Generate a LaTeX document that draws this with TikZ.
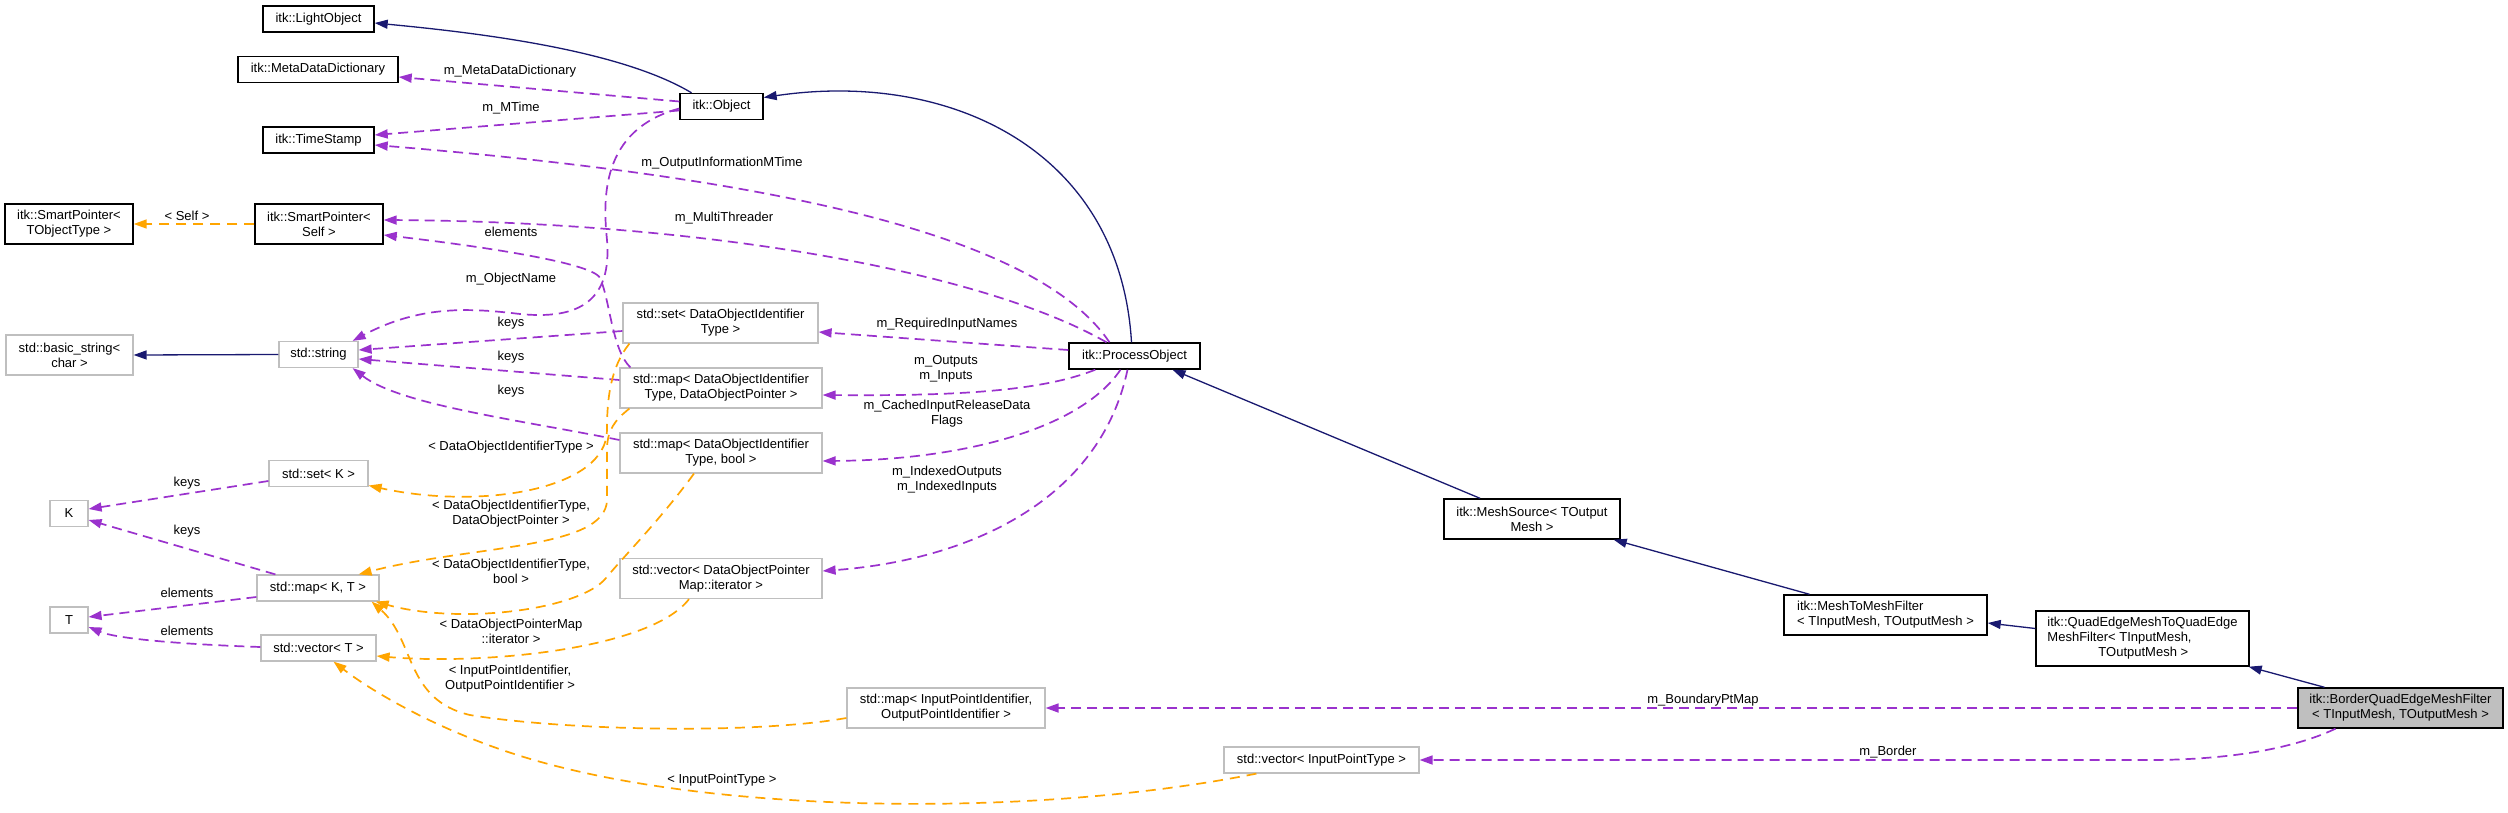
\documentclass[tikz,border=0pt]{standalone}
\usepackage{fontspec}
\setmainfont{Liberation Sans}
\usetikzlibrary{arrows.meta}
\definecolor{navy}{HTML}{191970}
\definecolor{purp}{HTML}{9A32CD}
\definecolor{orng}{HTML}{FFA500}
\definecolor{gry}{HTML}{BFBFBF}
\begin{document}
\begin{tikzpicture}[x=1pt,y=-1pt,
  every node/.style={font=\fontsize{13}{15}\selectfont, inner sep=0pt, align=center},
  cls/.style={draw=black, line width=1.4pt, fill=white},
  ext/.style={draw=gry, line width=1.2pt, fill=white},
  inh/.style={draw=navy, line width=1.3pt, -{Triangle[length=13pt,width=9pt]}},
  use/.style={draw=purp, line width=1.7pt, dash pattern=on 10pt off 6pt, -{Triangle[length=13pt,width=9pt]}},
  tpl/.style={draw=orng, line width=1.7pt, dash pattern=on 10pt off 7pt, -{Triangle[length=13pt,width=9pt]}},
  lbl/.style={text=black}
]
\fill[white] (0,0) rectangle (2508,813);
\useasboundingbox (0,0) rectangle (2508,813);

% nodes
\node[cls, minimum width=111pt, minimum height=26pt] (lightobj) at (318.5,19) {itk::LightObject};
\node[cls, minimum width=160pt, minimum height=26pt] (mdd) at (318,69.5) {itk::MetaDataDictionary};
\node[cls, minimum width=111pt, minimum height=26pt] (timestamp) at (318.5,140) {itk::TimeStamp};
\node[cls, minimum width=128pt, minimum height=40pt] (spself) at (319,224) {itk::SmartPointer<\\Self >};
\node[cls, minimum width=128pt, minimum height=40pt] (sptobj) at (69,224) {itk::SmartPointer<\\TObjectType >};
\node[cls, minimum width=83pt, minimum height=26pt] (object) at (721.5,106.5) {itk::Object};
\node[ext, minimum width=127pt, minimum height=40pt] (bstring) at (69.5,355) {std::basic\_string<\\char >};
\node[ext, minimum width=79pt, minimum height=26pt] (string) at (318.5,354.5) {std::string};
\node[ext, minimum width=195pt, minimum height=40pt] (setdoi) at (720.5,323) {std::set< DataObjectIdentifier\\Type >};
\node[ext, minimum width=202pt, minimum height=40pt] (mapdop) at (721,388) {std::map< DataObjectIdentifier\\Type, DataObjectPointer >};
\node[ext, minimum width=202pt, minimum height=40pt] (mapbool) at (721,453) {std::map< DataObjectIdentifier\\Type, bool >};
\node[ext, minimum width=99pt, minimum height=26pt] (setk) at (318.5,473.5) {std::set< K >};
\node[ext, minimum width=38pt, minimum height=26pt] (K) at (69,513.5) {K};
\node[ext, minimum width=122pt, minimum height=26pt] (mapkt) at (318,588) {std::map< K, T >};
\node[ext, minimum width=202pt, minimum height=40pt] (vecdop) at (721,578.5) {std::vector< DataObjectPointer\\Map::iterator >};
\node[ext, minimum width=38pt, minimum height=26pt] (T) at (69,620) {T};
\node[ext, minimum width=115pt, minimum height=26pt] (vect) at (318.5,648) {std::vector< T >};
\node[cls, minimum width=131pt, minimum height=26pt] (process) at (1134.5,356) {itk::ProcessObject};
\node[ext, minimum width=198pt, minimum height=40pt] (mapipi) at (946,708) {std::map< InputPointIdentifier,\\OutputPointIdentifier >};
\node[ext, minimum width=195pt, minimum height=26pt] (vecipt) at (1321.5,760) {std::vector< InputPointType >};
\node[cls, minimum width=176pt, minimum height=40pt] (meshsource) at (1532,519) {itk::MeshSource< TOutput\\Mesh >};
\node[cls, minimum width=203pt, minimum height=40pt, align=left] (m2m) at (1885.5,615) {itk::MeshToMeshFilter\\< TInputMesh, TOutputMesh >};
\node[cls, minimum width=213pt, minimum height=55pt, align=left] (qe) at (2142.5,638.5) {itk::QuadEdgeMeshToQuadEdge\\MeshFilter< TInputMesh,\\\hspace*{51pt}TOutputMesh >};
\node[cls, fill=gry, minimum width=205pt, minimum height=40pt] (border) at (2400.5,708) {itk::BorderQuadEdgeMeshFilter\\< TInputMesh, TOutputMesh >};

% inheritance
\draw[inh] ([shift={(-30,0)}]object.north) .. controls (620,50) and (480,33) .. ([shift={(0,4)}]lightobj.east);
\draw[inh] ([shift={(-3,0)}]process.north) .. controls (1120,150) and (950,70) .. ([shift={(0,-9)}]object.east);
\draw[inh] ([shift={(-52,0)}]meshsource.north) -- ([shift={(38,0)}]process.south);
\draw[inh] ([shift={(-76,0)}]m2m.north) -- ([shift={(-7,0)}]meshsource.south east);
\draw[inh] ([shift={(0,-10)}]qe.west) -- ([shift={(0,8)}]m2m.east);
\draw[inh] ([shift={(-76,0)}]border.north) -- ([shift={(-1,0)}]qe.south east);
\draw[inh] (string.west) -- (bstring.east);

% usage
\draw[use] ([shift={(0,-5)}]object.west) -- ([shift={(0,7.5)}]mdd.east);
\draw[use] ([shift={(0,4)}]object.west) -- ([shift={(0,-5)}]timestamp.east);
\draw[use] ([shift={(-25,0)}]process.north) .. controls (1040,240) and (800,180) .. ([shift={(0,5)}]timestamp.east);
\draw[use] ([shift={(-28,0)}]process.north) .. controls (980,270) and (700,222) .. ([shift={(0,-4)}]spself.east);
\draw[use] ([shift={(0,2)}]object.west) .. controls (600,130) and (603,200) .. (607,240) .. controls (612,300) and (580,320) .. (520,314) .. controls (470,308) and (420,305) .. ([shift={(-6,0)}]string.north east);
\draw[use] ([shift={(0,8)}]setdoi.west) -- ([shift={(0,-4.5)}]string.east);
\draw[use] ([shift={(0,-8)}]mapdop.west) -- ([shift={(0,4.5)}]string.east);
\draw[use] ([shift={(0,-13)}]mapbool.west) .. controls (520,420) and (400,405) .. ([shift={(-6,0)}]string.south east);
\draw[use] ([shift={(11,0)}]mapdop.north west) .. controls (612,350) and (610,300) .. (600,278) .. controls (592,262) and (470,245) .. ([shift={(0,11)}]spself.east);
\draw[use] ([shift={(0,-6)}]process.west) -- ([shift={(0,9)}]setdoi.east);
\draw[use] ([shift={(27,0)}]process.south west) .. controls (1040,392) and (950,396) .. ([shift={(0,7)}]mapdop.east);
\draw[use] ([shift={(-14,0)}]process.south) .. controls (1080,430) and (960,460) .. ([shift={(0,8)}]mapbool.east);
\draw[use] ([shift={(-7,0)}]process.south) .. controls (1100,500) and (970,560) .. ([shift={(0,-7.5)}]vecdop.east);
\draw[use] (border.west) -- (mapipi.east);
\draw[use] ([shift={(-65,0)}]border.south) .. controls (2280,755) and (2200,760) .. (2150,760) -- (vecipt.east);
\draw[use] ([shift={(0,7.5)}]setk.west) -- ([shift={(0,-4.5)}]K.east);
\draw[use] ([shift={(19,0)}]mapkt.north west) -- ([shift={(0,6.5)}]K.east);
\draw[use] ([shift={(0,9)}]mapkt.west) -- ([shift={(0,-3)}]T.east);
\draw[use] ([shift={(0,-1)}]vect.west) .. controls (200,645) and (120,640) .. ([shift={(0,7)}]T.east);

% template instances
\draw[tpl] (spself.west) -- (sptobj.east);
\draw[tpl] ([shift={(7,0)}]setdoi.south west) .. controls (610,368) and (607,400) .. (607,430) .. controls (607,490) and (480,510) .. ([shift={(0,12)}]setk.east);
\draw[tpl] ([shift={(10,0)}]mapdop.south west) .. controls (615,420) and (607,430) .. (607,450) -- (607,500) .. controls (606,550) and (470,545) .. ([shift={(-21,0)}]mapkt.north east);
\draw[tpl] ([shift={(-27,0)}]mapbool.south) .. controls (660,520) and (625,555) .. (606,578) .. controls (580,610) and (460,625) .. ([shift={(-4,0)}]mapkt.south east);
\draw[tpl] ([shift={(-32,0)}]vecdop.south) .. controls (650,650) and (480,665) .. ([shift={(0,8)}]vect.east);
\draw[tpl] ([shift={(0,10)}]mapipi.west) .. controls (750,735) and (560,730) .. (470,715) .. controls (405,700) and (415,640) .. ([shift={(-8,0)}]mapkt.south east);
\draw[tpl] ([shift={(33,0)}]vecipt.south west) .. controls (1050,815) and (750,815) .. (560,767) .. controls (450,740) and (370,690) .. ([shift={(15,0)}]vect.south);

% labels
\node[lbl] (l1) at (510,71) {m\_MetaDataDictionary};
\node[lbl] (l2) at (511,108) {m\_MTime};
\node[lbl] (l3) at (722,163) {m\_OutputInformationMTime};
\node[lbl] (l4) at (724,218) {m\_MultiThreader};
\node[lbl] (l5) at (511,232) {elements};
\node[lbl] (l6) at (511,279) {m\_ObjectName};
\node[lbl] (l7) at (511,323) {keys};
\node[lbl] (l8) at (511,357) {keys};
\node[lbl] (l9) at (511,391) {keys};
\node[lbl] (l10) at (187,216) {< Self >};
\node[lbl] (l11) at (947,324) {m\_RequiredInputNames};
\node[lbl] (l12) at (946,368.5) {m\_Outputs\\m\_Inputs};
\node[lbl] (l13) at (947,414) {m\_CachedInputReleaseData\\Flags};
\node[lbl] (l14) at (947,480) {m\_IndexedOutputs\\m\_IndexedInputs};
\node[lbl] (l15) at (511,447) {< DataObjectIdentifierType >};
\node[lbl] (l16) at (511,514) {< DataObjectIdentifierType,\\DataObjectPointer >};
\node[lbl] (l17) at (511,571) {< DataObjectIdentifierType,\\bool >};
\node[lbl] (l18) at (187,483) {keys};
\node[lbl] (l19) at (187,531) {keys};
\node[lbl] (l20) at (187,593) {elements};
\node[lbl] (l21) at (187,631) {elements};
\node[lbl] (l22) at (511,631) {< DataObjectPointerMap\\::iterator >};
\node[lbl] (l23) at (510,679) {< InputPointIdentifier,\\OutputPointIdentifier >};
\node[lbl] (l24) at (722,780) {< InputPointType >};
\node[lbl] (l25) at (1703,700) {m\_BoundaryPtMap};
\node[lbl] (l26) at (1888,752) {m\_Border};
\end{tikzpicture}
\end{document}
